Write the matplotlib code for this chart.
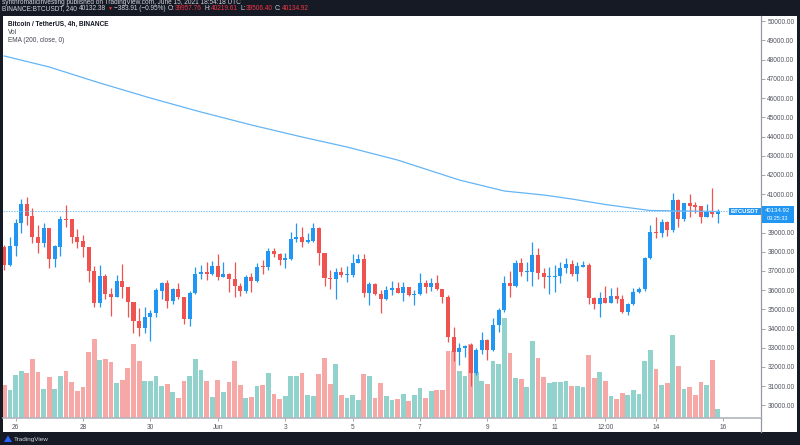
import matplotlib
matplotlib.use("Agg")
import matplotlib.pyplot as plt
import numpy as np
import pandas as pd
from matplotlib.patches import Rectangle, Polygon
from matplotlib.lines import Line2D

# ---------------- data (BTCUSDT 4h, Binance) ----------------
start_time = "2021-05-25 16:00"
opens = [38262, 37307, 38314, 39512, 40467, 39859, 38748, 38470, 39251, 37602,
         38262, 39685, 39685, 38783, 38557, 38262, 36994, 35345, 36751, 35779,
         35658, 36474, 36144, 35397, 34408, 34008, 34581, 34790, 35970, 36352,
         35449, 36057, 35658, 34477, 35831, 36821, 36960, 36838, 37255, 36699,
         36838, 36595, 36213, 35970, 36699, 36474, 37255, 37185, 38036, 37880,
         37567, 37619, 38644, 38783, 38522, 38574, 39251, 37949, 36647, 36578,
         36925, 36786, 36786, 37394, 37602, 35831, 36317, 35779, 35519, 36005,
         36126, 35866, 36144, 35744, 35779, 36387, 36144, 36387, 36040, 35623,
         33540, 32793, 32967, 33140, 31699, 32880, 33401, 32880, 34182, 34963,
         36352, 36213, 37394, 36960, 36960, 37828, 36873, 36665, 36665, 36717,
         37133, 37359, 36821, 37220, 37307, 35571, 35276, 35606, 35345, 35710,
         35519, 34842, 35258, 35884, 36040, 37654, 39009, 38956, 39564, 39130,
         40693, 39703, 40519, 40432, 40380, 39825, 40085, 39957.76]
highs = [38349, 38748, 39685, 40744, 40866, 40258, 39390, 39477, 39260, 38349,
         39859, 40415, 39690, 39165, 38869, 38270, 37272, 37307, 36821, 36092,
         36786, 37342, 36150, 35400, 35085, 35137, 34963, 36092, 36439, 36526,
         36092, 36352, 35665, 35970, 37185, 37307, 37480, 37515, 37880, 37446,
         36873, 37446, 36352, 36786, 36873, 37394, 37567, 38210, 38175, 37949,
         37915, 39043, 39512, 39269, 38956, 39477, 39303, 37950, 37047, 37133,
         37220, 37255, 37880, 37880, 37880, 36439, 36352, 36005, 36213, 36491,
         36404, 36439, 36178, 36005, 36908, 36526, 36613, 36786, 36045, 35744,
         34095, 33262, 33140, 33227, 32967, 33835, 33436, 34529, 35050, 36734,
         37012, 37567, 37654, 37480, 38522, 38175, 37133, 37220, 37307, 37480,
         37689, 37567, 37480, 37515, 37394, 35658, 35918, 36213, 36092, 36144,
         35745, 35345, 36127, 36179, 37741, 39390, 39790, 39686, 39616, 41074,
         40727, 40554, 41005, 40606, 40385, 40467, 41300, 40219.61]
lows = [37047, 37255, 37776, 38991, 39390, 38435, 37915, 38262, 37133, 37185,
        37776, 39269, 38470, 38175, 37706, 36439, 35102, 35137, 35536, 34668,
        35623, 35571, 34581, 33783, 33627, 33748, 33366, 34616, 35536, 35085,
        35276, 35519, 34234, 34147, 35797, 36561, 36526, 36786, 36526, 36665,
        35883, 35658, 35710, 35866, 35883, 36439, 36838, 37047, 37706, 37307,
        37168, 37567, 38505, 38262, 38435, 38522, 37307, 36213, 36040, 35536,
        36699, 36439, 36699, 37390, 35658, 35224, 35744, 34790, 35484, 35744,
        35831, 35432, 35692, 35224, 35744, 35866, 35953, 36005, 35345, 33314,
        32307, 32099, 32533, 31005, 31578, 32672, 32359, 32845, 33835, 34876,
        35658, 36178, 36734, 36491, 36213, 36561, 36092, 35797, 35918, 36352,
        36908, 36751, 36474, 37185, 35276, 34998, 34616, 35311, 35311, 35345,
        34824, 34703, 35224, 35866, 35970, 37602, 38696, 38783, 38818, 39043,
        39304, 39616, 39825, 40033, 39512, 39790, 39825, 39506.40]
closes = [37307, 38314, 39512, 40467, 39859, 38748, 38470, 39251, 37602, 38297,
          39685, 39651, 38783, 38522, 38227, 36994, 35345, 36751, 35779, 35658,
          36474, 36144, 35363, 34408, 34008, 34616, 34790, 36005, 36352, 35449,
          36057, 35658, 34477, 35831, 36821, 36960, 36838, 37255, 36699, 36838,
          36578, 36213, 35970, 36699, 36474, 37220, 37185, 38036, 37880, 37567,
          37654, 38644, 38783, 38522, 38609, 39251, 37915, 36613, 36578, 36925,
          36786, 36838, 37394, 37602, 35831, 36317, 35779, 35519, 36005, 36126,
          35866, 36144, 35744, 35797, 36387, 36144, 36387, 36040, 35623, 33540,
          32793, 32967, 33106, 31699, 32880, 33401, 32880, 34182, 34963, 36352,
          36213, 37394, 36960, 37012, 37828, 36873, 36665, 36699, 36751, 37133,
          37359, 36821, 37255, 37307, 35571, 35276, 35606, 35345, 35710, 35519,
          34842, 35258, 35884, 36040, 37654, 39009, 38956, 39564, 39130, 40693,
          39703, 40519, 40397, 40345, 39825, 40085, 39946, 40134.92]
volumes = [9800, 8300, 13000, 14100, 13500, 17800, 13800, 8800, 12400, 8800,
           12600, 14200, 10900, 8200, 9300, 19700, 23600, 17500, 17700, 16900,
           10500, 11500, 15000, 22300, 17000, 11100, 11100, 12700, 9500, 10200,
           7700, 6100, 11000, 12700, 17800, 14400, 11200, 6400, 11400, 7900,
           10900, 17200, 10000, 6100, 6300, 9700, 10000, 13600, 7300, 5800,
           6500, 12600, 12600, 13500, 7000, 6500, 13300, 18100, 10200, 16300,
           7000, 6000, 7000, 5400, 13200, 12600, 5900, 10600, 6500, 5500,
           5700, 7300, 5200, 6900, 9100, 6100, 8200, 8500, 8500, 20000,
           20000, 14100, 12700, 22300, 13700, 11100, 10300, 17200, 16200, 30100,
           19500, 12100, 11700, 9400, 23100, 18000, 12300, 10500, 10700, 10900,
           11200, 9600, 9600, 9300, 19000, 12000, 13900, 11100, 6600, 5700,
           7600, 7000, 8400, 7300, 17200, 20300, 14800, 9900, 10500, 25000,
           15500, 8800, 9400, 7000, 10800, 9900, 17500, 2700]
ema_times = ["2021-05-25 16:00", "2021-05-27 00:00", "2021-05-28 12:00",
             "2021-05-30 00:00", "2021-05-31 12:00", "2021-06-02 00:00",
             "2021-06-03 12:00", "2021-06-04 20:00", "2021-06-06 08:00",
             "2021-06-08 04:00", "2021-06-09 12:00", "2021-06-10 16:00",
             "2021-06-11 12:00", "2021-06-12 12:00", "2021-06-13 08:00",
             "2021-06-13 20:00", "2021-06-14 20:00", "2021-06-15 20:00"]
ema_values = [48193, 47620, 46787, 46005, 45276, 44599, 43974, 43453, 42776,
              41734, 41161, 40953, 40745, 40458, 40260, 40146, 40120, 40094]
xtick_times = ["2021-05-26", "2021-05-28", "2021-05-30", "2021-06-01",
               "2021-06-03", "2021-06-05", "2021-06-07", "2021-06-09",
               "2021-06-11", "2021-06-12 12:00", "2021-06-14", "2021-06-16"]
xtick_labels = ["26", "28", "30", "Jun", "3", "5", "7", "9", "11", "12:00", "14", "16"]
price_ticks = list(range(30000, 50001, 1000))
last_price = 40134.92
countdown = "03:25:33"

# ---------------- helpers ----------------
W, H = 800, 445
t0 = pd.Timestamp(start_time)
step = pd.Timedelta(hours=4)
def tindex(ts):
    return (pd.Timestamp(ts) - t0) / step

def fx(px):
    return px / W
def fy(py):
    return 1 - py / H

UP = "#2196f3"
DN = "#ef5350"
FONT = ["Liberation Sans", "DejaVu Sans"]

fig = plt.figure(figsize=(W / 100, H / 100), dpi=100)
fig.patch.set_facecolor("#161a25")
fig.patches.append(Rectangle((fx(3), fy(432)), fx(794), (432 - 16) / H,
                             transform=fig.transFigure, facecolor="white",
                             edgecolor="none", zorder=0))

rect = [fx(3), fy(418), fx(758), (418 - 16) / H]
axv = fig.add_axes(rect)
ax = fig.add_axes(rect, sharex=axv)
axv.set_zorder(1)
ax.set_zorder(2)
ax.patch.set_visible(False)
axv.set_facecolor("white")
axv.axis("off")

o = np.array(opens, float); h = np.array(highs, float)
l = np.array(lows, float); c = np.array(closes, float)
v = np.array(volumes, float)
x = np.arange(len(o))
up = c >= o
cols = np.where(up, UP, DN)

# volume
vcols = np.where(up, "#26a69a", DN)
axv.bar(x, v, width=0.85, color=vcols, alpha=0.5, linewidth=0)
axv.set_ylim(0, 402 * 300)

# candles
ax.vlines(x, l, h, colors=cols, linewidth=0.9)
body_lo = np.minimum(o, c)
body_h = np.maximum(np.abs(c - o), 45)
ax.bar(x, body_h, bottom=body_lo, width=0.72, color=cols, linewidth=0)

# EMA
ema_x = [tindex(t) for t in ema_times]
ax.plot(ema_x, ema_values, color="#64b5f6", linewidth=0.9)

# last price dotted line
ax.axhline(last_price, color="#7fbdf2", linewidth=0.8, linestyle=(0, (1.2, 1.2)))

ax.set_xlim(-0.23, 134.7)
ax.set_ylim(29339, 50276)

# axes styling
for s in ["top", "left"]:
    ax.spines[s].set_visible(False)
ax.spines["right"].set_color("#9598a1")
ax.spines["bottom"].set_color("#b2b5be")
ax.spines["right"].set_linewidth(0.9)
ax.spines["bottom"].set_linewidth(1.2)
ax.yaxis.tick_right()
ax.set_yticks(price_ticks)
# the 40000 label is hidden under the last-price marker in the original
ax.set_yticklabels(["" if abs(p - last_price) < 500 else f"{p:.2f}" for p in price_ticks])
ax.tick_params(axis="y", length=3, width=0.6, color="#9598a1", pad=1.5,
               labelsize=4.7, labelcolor="#50535e")
ax.set_xticks([tindex(t) for t in xtick_times])
ax.set_xticklabels(xtick_labels)
ax.tick_params(axis="x", length=2.5, width=0.6, color="#9598a1", pad=2,
               labelsize=4.7, labelcolor="#50535e")
for lab in ax.get_xticklabels() + ax.get_yticklabels():
    lab.set_family(FONT)

fig.lines.append(Line2D([fx(761), fx(761)], [fy(418), fy(432)],
                        transform=fig.transFigure, color="#9598a1", linewidth=0.9))

# legend text (top-left)
fig.text(fx(8), fy(24.5), "Bitcoin / TetherUS, 4h, BINANCE", fontsize=4.7,
         color="#131722", fontweight="bold", va="center", family=FONT)
fig.text(fx(8), fy(32.5), "Vol", fontsize=4.7, color="#434651", va="center", family=FONT)
fig.text(fx(8), fy(41), "EMA (200, close, 0)", fontsize=4.7, color="#434651",
         va="center", family=FONT)

# price labels on right
fig.text(fx(745), fy(211.5), "BTCUSDT", fontsize=4.2, color="white", fontweight="bold",
         ha="center", va="center", family=FONT,
         bbox=dict(boxstyle="square,pad=0.25", facecolor=UP, edgecolor="none"))
fig.patches.append(Rectangle((fx(762), fy(223)), fx(31.5), 17 / H,
                             transform=fig.transFigure, facecolor=UP,
                             edgecolor="none", zorder=5))
fig.text(fx(777.5), fy(210.0), f"{last_price:.2f}", fontsize=4.3, color="white",
         ha="center", va="center", family=FONT, zorder=6)
fig.text(fx(777.5), fy(218.3), countdown, fontsize=4.0, color="white",
         ha="center", va="center", family=FONT, zorder=6)

# header
fig.text(fx(2), fy(2.0), "synthromaticinvesting published on TradingView.com, June 15, 2021 18:54:18 UTC",
         fontsize=4.7, color="#d1d4dc", va="center", family=FONT)
renderer = fig.canvas.get_renderer()
segs = [("BINANCE:BTCUSDT, 240", "#d1d4dc", 2.2), ("40132.38", "#d1d4dc", 1.5),
        ("▼", "#f23645", 1.5), ("−383.91 (−0.95%)", "#d1d4dc", 2.2),
        ("O:", "#d1d4dc", 0.3), ("39957.76", "#f23645", 2.2),
        ("H:", "#d1d4dc", 0.3), ("40219.61", "#f23645", 2.2),
        ("L:", "#d1d4dc", 0.3), ("39506.40", "#f23645", 2.2),
        ("C:", "#d1d4dc", 0.3), ("40134.92", "#f23645", 0)]
xpos = 2.0
for s, col, gap in segs:
    fs = 3.6 if s == "▼" else 4.7
    t = fig.text(fx(xpos), fy(8.8), s, fontsize=fs, color=col, va="center",
                 ha="left", family=FONT)
    bb = t.get_window_extent(renderer)
    xpos = bb.x1 + gap

# footer logo
fig.patches.append(Polygon([(fx(4), fy(442)), (fx(8), fy(435.5)), (fx(12), fy(442))],
                           closed=True, transform=fig.transFigure,
                           facecolor="#2962ff", edgecolor="none"))
fig.text(fx(13.5), fy(439), "TradingView", fontsize=4.6, color="#d1d4dc",
         va="center", family=FONT)

fig.savefig("out.png", dpi=100, facecolor=fig.get_facecolor())
